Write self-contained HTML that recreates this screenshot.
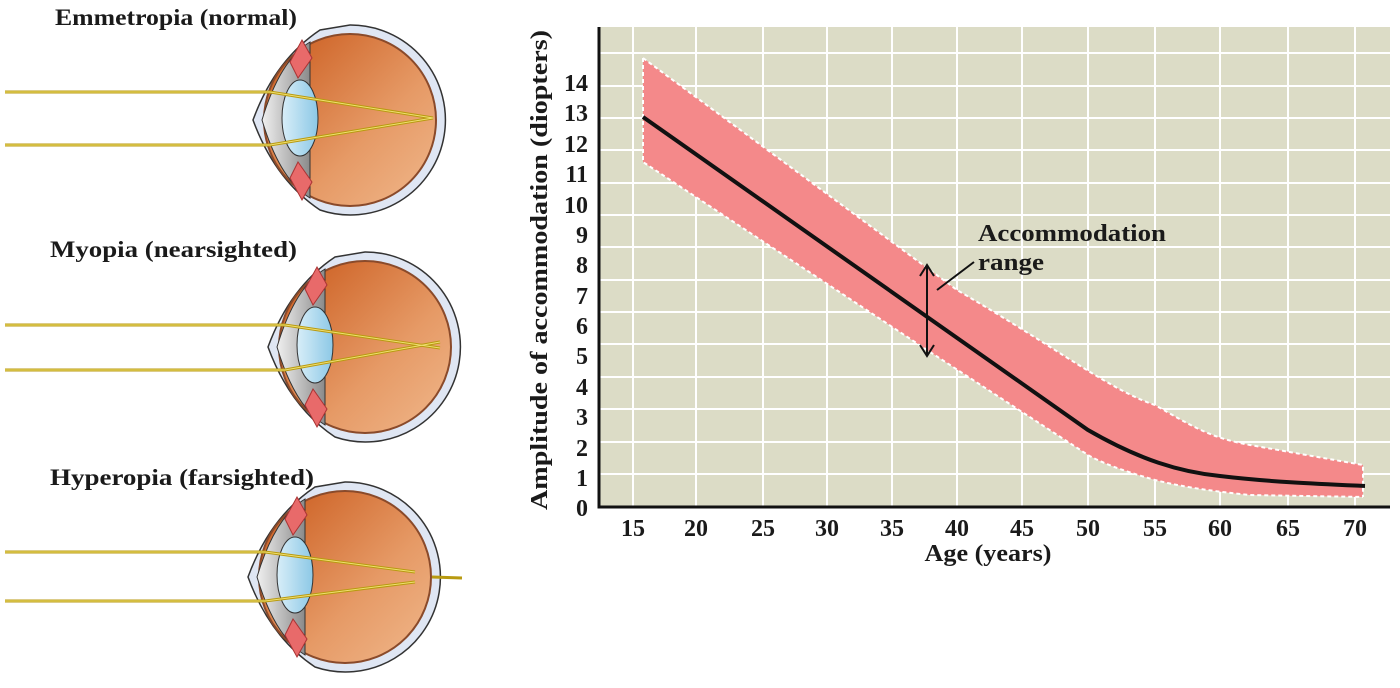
<!DOCTYPE html>
<html><head><meta charset="utf-8"><style>
body{margin:0;background:#fff;}
svg text{font-family:"Liberation Serif",serif;font-weight:bold;fill:#1a1a1a;}
</style></head><body>
<svg width="1400" height="683" viewBox="0 0 1400 683" xmlns="http://www.w3.org/2000/svg">
<defs>
<linearGradient id="vit" x1="0" y1="0" x2="1" y2="1">
<stop offset="0" stop-color="#c9581a"/><stop offset="0.6" stop-color="#e69a66"/><stop offset="1" stop-color="#f0b88c"/></linearGradient>
<linearGradient id="lens" x1="0" y1="0" x2="1" y2="0">
<stop offset="0" stop-color="#d8eef8"/><stop offset="1" stop-color="#8cc8e6"/></linearGradient>
<linearGradient id="ant" x1="0" y1="0" x2="1" y2="0">
<stop offset="0" stop-color="#f0f0f0"/><stop offset="1" stop-color="#8a8a8a"/></linearGradient>
<g id="eye">
<path d="M0,-95 A95,95 0 1,1 -30,90 Q-75,60 -97,0 Q-75,-60 -30,-90 Z" fill="#dfe6f3" stroke="#333" stroke-width="1.5"/>
<circle cx="0" cy="0" r="86" fill="url(#vit)" stroke="#8a4a2a" stroke-width="2"/>
<path d="M-40,-78 Q-70,-60 -88,0 Q-70,60 -40,78 Z" fill="url(#ant)" stroke="#333" stroke-width="1"/>
<path d="M-48,-80 L-38,-62 L-52,-42 L-60,-58 Z M-48,80 L-38,62 L-52,42 L-60,58 Z" fill="#e86a6a" stroke="#a33" stroke-width="1"/>
<ellipse cx="-50" cy="-2" rx="18" ry="38" fill="url(#lens)" stroke="#333" stroke-width="1"/>
</g>
</defs>
<text x="55" y="25" font-size="23" textLength="242" lengthAdjust="spacingAndGlyphs">Emmetropia (normal)</text>
<text x="50" y="257" font-size="23" textLength="247" lengthAdjust="spacingAndGlyphs">Myopia (nearsighted)</text>
<text x="50" y="485" font-size="23" textLength="264" lengthAdjust="spacingAndGlyphs">Hyperopia (farsighted)</text>
<use href="#eye" x="350" y="120"/>
<use href="#eye" x="365" y="347"/>
<use href="#eye" x="345" y="577"/>
<g stroke="#b89a10" stroke-width="3" fill="none">
<polyline points="5,92 270,92 433,118"/><polyline points="5,145 270,145 433,118"/>
<polyline points="5,325 285,325 440,348"/><polyline points="5,370 285,370 440,342"/>
<polyline points="5,552 265,552 415,572"/><polyline points="5,601 265,601 415,582"/>
<line x1="432" y1="577" x2="462" y2="578"/>
</g>
<g stroke="#f0e070" stroke-width="1" fill="none">
<polyline points="5,92 270,92 433,118"/><polyline points="5,145 270,145 433,118"/>
<polyline points="5,325 285,325 440,348"/><polyline points="5,370 285,370 440,342"/>
<polyline points="5,552 265,552 415,572"/><polyline points="5,601 265,601 415,582"/>
</g>
<!-- chart -->
<rect x="599" y="27" width="791" height="480" fill="#dcdcc6"/>
<g stroke="#fff" stroke-width="2">
<line x1="633" y1="27" x2="633" y2="507"/><line x1="696" y1="27" x2="696" y2="507"/>
<line x1="763" y1="27" x2="763" y2="507"/><line x1="827" y1="27" x2="827" y2="507"/>
<line x1="892" y1="27" x2="892" y2="507"/><line x1="957" y1="27" x2="957" y2="507"/>
<line x1="1022" y1="27" x2="1022" y2="507"/><line x1="1088" y1="27" x2="1088" y2="507"/>
<line x1="1155" y1="27" x2="1155" y2="507"/><line x1="1220" y1="27" x2="1220" y2="507"/>
<line x1="1288" y1="27" x2="1288" y2="507"/><line x1="1355" y1="27" x2="1355" y2="507"/>
<line x1="599" y1="474" x2="1390" y2="474"/><line x1="599" y1="442" x2="1390" y2="442"/>
<line x1="599" y1="409" x2="1390" y2="409"/><line x1="599" y1="377" x2="1390" y2="377"/>
<line x1="599" y1="344" x2="1390" y2="344"/><line x1="599" y1="312" x2="1390" y2="312"/>
<line x1="599" y1="280" x2="1390" y2="280"/><line x1="599" y1="247" x2="1390" y2="247"/>
<line x1="599" y1="215" x2="1390" y2="215"/><line x1="599" y1="183" x2="1390" y2="183"/>
<line x1="599" y1="150" x2="1390" y2="150"/><line x1="599" y1="118" x2="1390" y2="118"/>
<line x1="599" y1="86" x2="1390" y2="86"/><line x1="599" y1="53" x2="1390" y2="53"/>
</g>
<path d="M643,58 L957,290 C1060,350 1110,390 1155,405 C1190,425 1210,438 1250,445 L1363,465 L1363,497 L1250,495 C1200,490 1175,485 1155,480 C1120,470 1100,462 1088,455 L927,350 L643,162 Z" fill="#f4898a"/>
<g stroke="#fff" stroke-width="2" stroke-dasharray="4,3" fill="none">
<path d="M643,58 L957,290 C1060,350 1110,390 1155,405 C1190,425 1210,438 1250,445 L1363,465 L1363,497"/>
<path d="M643,58 L643,162 L927,350 L1088,455 C1100,462 1120,470 1155,480 C1175,485 1200,490 1250,495 L1363,497"/>
</g>
<path d="M643,117 L1088,430 C1140,460 1180,472 1220,476 C1270,482 1320,484 1365,486" stroke="#111" stroke-width="4" fill="none"/>
<g stroke="#111" stroke-width="2" fill="none">
<line x1="927" y1="267" x2="927" y2="354"/>
<polyline points="920,276 927,265 934,276"/><polyline points="920,345 927,356 934,345"/>
<line x1="937" y1="290" x2="974" y2="262"/>
</g>
<text x="978" y="241" font-size="24" textLength="188" lengthAdjust="spacingAndGlyphs">Accommodation</text>
<text x="978" y="270" font-size="24" textLength="66" lengthAdjust="spacingAndGlyphs">range</text>
<path d="M599,27 L599,507 L1390,507" stroke="#111" stroke-width="3" fill="none"/>
<g font-size="24" text-anchor="end">
<text x="588" y="516">0</text><text x="588" y="486">1</text><text x="588" y="456">2</text>
<text x="588" y="425">3</text><text x="588" y="395">4</text><text x="588" y="364">5</text>
<text x="588" y="334">6</text><text x="588" y="304">7</text><text x="588" y="273">8</text>
<text x="588" y="243">9</text><text x="588" y="213">10</text><text x="588" y="182">11</text>
<text x="588" y="152">12</text><text x="588" y="121">13</text><text x="588" y="91">14</text>
</g>
<g font-size="24" text-anchor="middle">
<text x="633" y="536">15</text><text x="696" y="536">20</text><text x="763" y="536">25</text>
<text x="827" y="536">30</text><text x="892" y="536">35</text><text x="957" y="536">40</text>
<text x="1022" y="536">45</text><text x="1088" y="536">50</text><text x="1155" y="536">55</text>
<text x="1220" y="536">60</text><text x="1288" y="536">65</text><text x="1355" y="536">70</text>
<text x="988" y="561" textLength="127" lengthAdjust="spacingAndGlyphs">Age (years)</text>
<text transform="translate(547,270) rotate(-90)" textLength="480" lengthAdjust="spacingAndGlyphs">Amplitude of accommodation (diopters)</text>
</g>
</svg>
</body></html>
